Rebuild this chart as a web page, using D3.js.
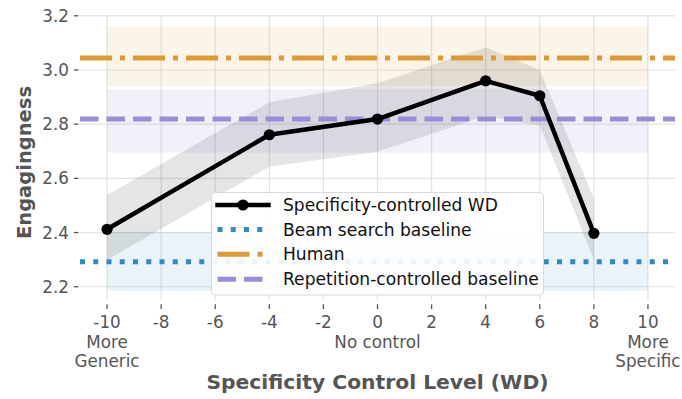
<!DOCTYPE html>
<html>
<head>
<meta charset="utf-8">
<script src="https://cdn.jsdelivr.net/npm/d3@7"></script>
<style>
  html, body { margin: 0; padding: 0; background: #fff; }
  svg { display: block; font-family: "DejaVu Sans", sans-serif; }
</style>
</head>
<body>
<script>
// Specificity control level (WD weight) and engagingness scores
const wdLevels = [-10, -4, 0, 4, 6, 8];
const wdMean   = [2.412, 2.761, 2.819, 2.960, 2.905, 2.397];
const wdLower  = [2.299, 2.643, 2.698, 2.830, 2.795, 2.300];
const wdUpper  = [2.539, 2.881, 2.951, 3.084, 3.000, 2.526];

// Baselines: [mean, lower, upper]
const beamBaseline       = [2.292, 2.185, 2.403];
const humanBaseline      = [3.044, 2.941, 3.160];
const repetitionBaseline = [2.819, 2.695, 2.929];

const xTicks = [-10, -8, -6, -4, -2, 0, 2, 4, 6, 8, 10];
const xTickLabels = [["-10", "More", "Generic"], ["-8"], ["-6"], ["-4"], ["-2"],
                     ["0", "No control"], ["2"], ["4"], ["6"], ["8"], ["10", "More", "Specific"]];
const yTicks = [2.2, 2.4, 2.6, 2.8, 3.0, 3.2];

const seriesNames = ["Specificity-controlled WD", "Beam search baseline", "Human", "Repetition-controlled baseline"];

const W = 682, H = 399;
const plotLeft = 80, plotRight = 675, plotTop = 15.8, plotBottom = 300.3;

const colors = { wd: "#000000", beam: "#348abd", human: "#dc9b32", rep: "#988ed5" };
const dashes = { beam: "5,8.25", human: "32,8,5,8", rep: "18.5,8" };
const textGray = "#555555";

const x = d3.scaleLinear().domain([-11, 11]).range([plotLeft, plotRight]);
const y = d3.scaleLinear().domain([2.15, 3.2]).range([plotBottom, plotTop]);

const svg = d3.select("body").append("svg").attr("width", W).attr("height", H);

svg.append("defs").append("clipPath").attr("id", "plotClip")
  .append("rect").attr("x", plotLeft).attr("y", plotTop - 1)
  .attr("width", plotRight - plotLeft).attr("height", plotBottom - plotTop + 1);

// grid
const grid = svg.append("g").attr("stroke", "#e3e3e3").attr("stroke-width", 1.2);
grid.selectAll("line.h").data(yTicks).join("line").attr("class", "h")
  .attr("x1", plotLeft).attr("x2", plotRight).attr("y1", d => y(d)).attr("y2", d => y(d));
grid.selectAll("line.v").data(xTicks).join("line").attr("class", "v")
  .attr("y1", plotTop).attr("y2", plotBottom).attr("x1", d => x(d)).attr("x2", d => x(d));

const plot = svg.append("g").attr("clip-path", "url(#plotClip)");

// baseline bands between -10 and 10
const bands = [
  { v: beamBaseline, c: colors.beam, o: 0.1 },
  { v: humanBaseline, c: colors.human, o: 0.11 },
  { v: repetitionBaseline, c: colors.rep, o: 0.12 }
];
plot.selectAll("rect.band").data(bands).join("rect").attr("class", "band")
  .attr("x", x(-10)).attr("width", x(10) - x(-10))
  .attr("y", d => y(d.v[2])).attr("height", d => y(d.v[1]) - y(d.v[2]))
  .attr("fill", d => d.c).attr("fill-opacity", d => d.o);

// confidence band of the WD series
const pts = wdLevels.map((l, i) => ({ l, m: wdMean[i], lo: wdLower[i], hi: wdUpper[i] }));
plot.append("path").datum(pts)
  .attr("d", d3.area().x(d => x(d.l)).y0(d => y(d.lo)).y1(d => y(d.hi)))
  .attr("fill", "#000").attr("fill-opacity", 0.1);

// baseline lines across the full width
const baseLines = [
  { v: beamBaseline[0], c: colors.beam, d: dashes.beam },
  { v: humanBaseline[0], c: colors.human, d: dashes.human },
  { v: repetitionBaseline[0], c: colors.rep, d: dashes.rep }
];
plot.selectAll("line.base").data(baseLines).join("line").attr("class", "base")
  .attr("x1", x(-11)).attr("x2", x(11))
  .attr("y1", d => y(d.v)).attr("y2", d => y(d.v))
  .attr("stroke", d => d.c).attr("stroke-width", 5).attr("stroke-dasharray", d => d.d);

// WD series
plot.append("path").datum(pts)
  .attr("d", d3.line().x(d => x(d.l)).y(d => y(d.m)))
  .attr("fill", "none").attr("stroke", colors.wd).attr("stroke-width", 4.5).attr("stroke-linejoin", "round");
plot.selectAll("circle.pt").data(pts).join("circle").attr("class", "pt")
  .attr("cx", d => x(d.l)).attr("cy", d => y(d.m)).attr("r", 5.6).attr("fill", colors.wd);

// y axis
const yAx = svg.append("g");
yAx.selectAll("line").data(yTicks).join("line")
  .attr("x1", 74).attr("x2", 78.5).attr("y1", d => y(d)).attr("y2", d => y(d))
  .attr("stroke", textGray).attr("stroke-width", 1.3);
yAx.selectAll("text").data(yTicks).join("text")
  .attr("x", 69).attr("y", d => y(d) + 6).attr("text-anchor", "end")
  .attr("font-size", 16.8).attr("fill", textGray).text(d => d.toFixed(1));

// x axis
const xAx = svg.append("g");
xAx.selectAll("line").data(xTicks).join("line")
  .attr("x1", d => x(d)).attr("x2", d => x(d)).attr("y1", 304.3).attr("y2", 309)
  .attr("stroke", textGray).attr("stroke-width", 1.3);
xAx.selectAll("text").data(xTicks).join("text")
  .attr("x", d => x(d)).attr("y", 328.3).attr("text-anchor", "middle")
  .attr("font-size", 16.8).attr("fill", textGray)
  .each(function (d, i) {
    d3.select(this).selectAll("tspan").data(xTickLabels[i]).join("tspan")
      .attr("x", x(d)).attr("dy", (t, j) => j === 0 ? 0 : 19.3).text(t => t);
  });

// axis titles
svg.append("text").attr("x", (plotLeft + plotRight) / 2).attr("y", 389)
  .attr("text-anchor", "middle").attr("font-size", 20.3).attr("font-weight", "bold")
  .attr("fill", textGray).text("Specificity Control Level (WD)");
svg.append("text").attr("transform", "translate(31,162.5) rotate(-90)")
  .attr("text-anchor", "middle").attr("font-size", 19.5).attr("font-weight", "bold")
  .attr("fill", textGray).text("Engagingness");

// legend
const lg = svg.append("g");
lg.append("rect").attr("x", 211.5).attr("y", 192.5).attr("width", 332).attr("height", 102.5)
  .attr("rx", 4).attr("fill", "#fff").attr("fill-opacity", 0.9).attr("stroke", "#d8d8d8").attr("stroke-width", 1);
const rowY = [205, 229.6, 254.3, 279.2];
const handles = [
  { c: colors.wd, d: null, w: 4.5, cap: "square" },
  { c: colors.beam, d: dashes.beam, w: 5, cap: "butt" },
  { c: colors.human, d: dashes.human, w: 5, cap: "butt" },
  { c: colors.rep, d: dashes.rep, w: 5, cap: "butt" }
];
handles.forEach((h, i) => {
  lg.append("line").attr("x1", 217.5).attr("x2", 268.5).attr("y1", rowY[i]).attr("y2", rowY[i])
    .attr("stroke", h.c).attr("stroke-width", h.w).attr("stroke-linecap", h.cap)
    .attr("stroke-dasharray", h.d);
  lg.append("text").attr("x", 283).attr("y", rowY[i] + 6).attr("font-size", 17.1)
    .attr("fill", "#111").text(seriesNames[i]);
});
lg.append("circle").attr("cx", 243).attr("cy", rowY[0]).attr("r", 5.6).attr("fill", colors.wd);
</script>
</body>
</html>
